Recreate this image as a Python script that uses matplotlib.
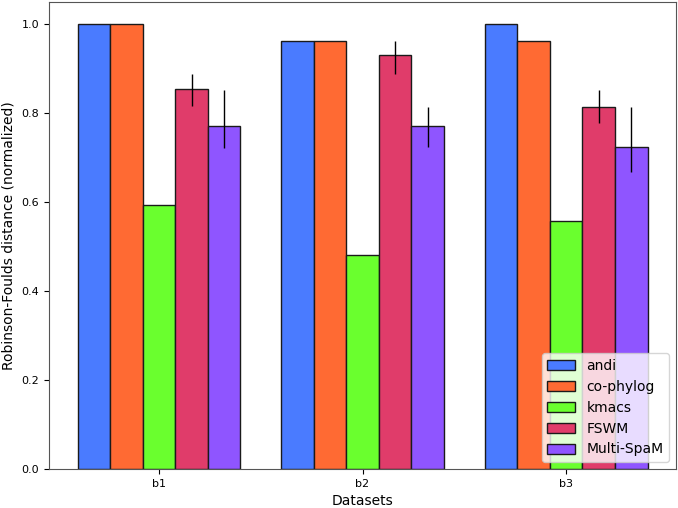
import numpy as np
import matplotlib
matplotlib.use("Agg")
import matplotlib.pyplot as plt

datasets = ["b1", "b2", "b3"]
tools = ["andi", "co-phylog", "kmacs", "FSWM", "Multi-SpaM"]
colors = ["#4a7bff", "#ff6a33", "#6aff2e", "#e03c6a", "#8f55ff"]

andi = [1.0, 0.963, 1.0]
cophylog = [1.0, 0.963, 0.963]
kmacs = [0.593, 0.481, 0.557]
fswm = [0.855, 0.930, 0.815]
multispam = [0.772, 0.771, 0.724]

fswm_lo = [0.816, 0.889, 0.778]
fswm_hi = [0.889, 0.963, 0.852]
multi_lo = [0.722, 0.723, 0.667]
multi_hi = [0.852, 0.815, 0.814]

values = [andi, cophylog, kmacs, fswm, multispam]
errs = [None, None, None,
        [np.array(fswm) - np.array(fswm_lo), np.array(fswm_hi) - np.array(fswm)],
        [np.array(multispam) - np.array(multi_lo), np.array(multi_hi) - np.array(multispam)]]

fig = plt.figure(figsize=(6.78, 5.08), dpi=100)
ax = fig.add_axes([49/678, 39/508, 627/678, 467/508])

x = np.arange(len(datasets))
w = 0.16
for i, (t, v, c, e) in enumerate(zip(tools, values, colors, errs)):
    ax.bar(x + (i - 2) * w, v, w, color=c, edgecolor="#1a1a1a", linewidth=1.0,
           label=t, yerr=e, ecolor="black", error_kw=dict(elinewidth=1.0, capsize=0))

ax.set_xticks(x)
ax.set_xticklabels(datasets, fontsize=8)
ax.tick_params(axis="y", labelsize=8)
ax.set_xlabel("Datasets", fontsize=10)
ax.set_ylabel("Robinson-Foulds distance (normalized)", fontsize=10)
for s in ax.spines.values():
    s.set_color("#555555")
ax.legend(loc="lower right", fontsize=10)
fig.savefig("out.png", dpi=100)
